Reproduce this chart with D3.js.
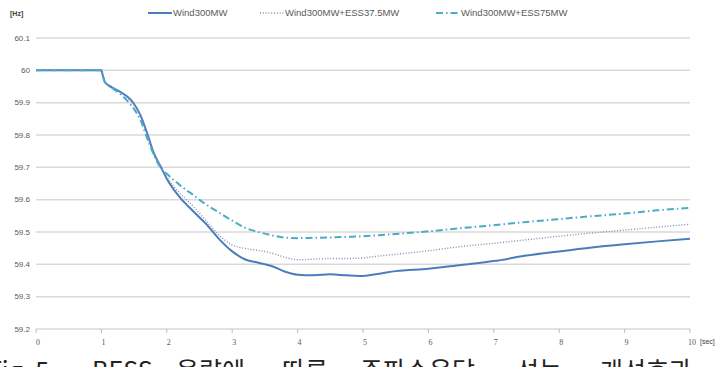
<!DOCTYPE html>
<html>
<head>
<meta charset="utf-8">
<script src="https://cdn.jsdelivr.net/npm/d3@7"></script>
<style>
  body { margin: 0; background: #fff; }
  svg { display: block; }
</style>
</head>
<body>
<div id="chart"></div>
<script>
// time axis (sec) shared by all series
let tiempo = [0, 1.0, 1.02, 1.05, 1.1, 1.2, 1.3, 1.4, 1.5, 1.6, 1.7, 1.8, 1.9, 2.0, 2.2, 2.4, 2.6, 2.8, 3.0,
    3.2, 3.4, 3.6, 3.8, 4.0, 4.25, 4.5, 4.75, 5.0, 5.25, 5.5, 6.0, 6.5, 7.0, 7.5, 8.0, 8.5, 9.0, 9.5, 10];

let wind300 = [60, 60, 59.985, 59.965, 59.955, 59.943, 59.932, 59.918, 59.896, 59.86, 59.805, 59.745, 59.705,
    59.665, 59.607, 59.565, 59.525, 59.478, 59.44, 59.415, 59.405, 59.395, 59.378, 59.368, 59.366, 59.369,
    59.366, 59.364, 59.371, 59.379, 59.386, 59.398, 59.41, 59.427, 59.44, 59.452, 59.462, 59.471, 59.479];

let wind300ess375 = [60, 60, 59.985, 59.965, 59.955, 59.943, 59.931, 59.915, 59.893, 59.857, 59.802, 59.743, 59.705,
    59.67, 59.62, 59.58, 59.535, 59.49, 59.46, 59.449, 59.443, 59.435, 59.422, 59.414, 59.416, 59.418,
    59.418, 59.42, 59.426, 59.431, 59.442, 59.455, 59.465, 59.476, 59.487, 59.497, 59.506, 59.515, 59.524];

let wind300ess75 = [60, 60, 59.985, 59.965, 59.954, 59.94, 59.925, 59.905, 59.88, 59.845, 59.79, 59.74, 59.70,
    59.68, 59.645, 59.615, 59.585, 59.56, 59.535, 59.513, 59.5, 59.49, 59.483, 59.481, 59.482, 59.483,
    59.485, 59.487, 59.49, 59.494, 59.502, 59.512, 59.521, 59.531, 59.54, 59.549, 59.557, 59.567, 59.575];

let nombres = ["Wind300MW", "Wind300MW+ESS37.5MW", "Wind300MW+ESS75MW"];
let yticks = [59.2, 59.3, 59.4, 59.5, 59.6, 59.7, 59.8, 59.9, 60, 60.1];
let xticks = [0, 1, 2, 3, 4, 5, 6, 7, 8, 9, 10];

let series = [
    {nombre: nombres[0], valores: wind300, color: "#4a7ebb", ancho: 2, dash: null},
    {nombre: nombres[1], valores: wind300ess375, color: "#8f84b8", ancho: 1.4, dash: "1,1.8"},
    {nombre: nombres[2], valores: wind300ess75, color: "#4bacc6", ancho: 2, dash: "7,3,1.5,3"}
];

let margin = {top: 38, right: 26, bottom: 38, left: 36},
    width = 716 - margin.left - margin.right,
    height = 367 - margin.top - margin.bottom;

let svg = d3.select("#chart")
    .append("svg")
    .attr("width", 716)
    .attr("height", 367);

let g = svg.append("g")
    .attr("transform", "translate(" + margin.left + "," + margin.top + ")");

let x = d3.scaleLinear().domain([0, 10]).range([0, width]);
let y = d3.scaleLinear().domain([59.2, 60.1]).range([height, 0]);

// gridlines
g.append("g")
    .selectAll("line")
    .data(yticks)
    .enter()
    .append("line")
    .attr("x1", 0)
    .attr("x2", width)
    .attr("y1", d => y(d))
    .attr("y2", d => y(d))
    .style("stroke", "#d9d9d9")
    .style("stroke-width", 1.5);

// y labels
g.append("g")
    .selectAll("text")
    .data(yticks)
    .enter()
    .append("text")
    .attr("x", -6)
    .attr("y", d => y(d))
    .attr("dy", "0.35em")
    .attr("text-anchor", "end")
    .style("font-family", "Liberation Sans, Arial, sans-serif")
    .style("font-size", "8px")
    .style("fill", "#595959")
    .text(d => d3.format("")(d));

// x ticks + labels
let xax = g.append("g").attr("transform", "translate(0," + height + ")");
xax.selectAll("line")
    .data(xticks)
    .enter()
    .append("line")
    .attr("x1", d => x(d))
    .attr("x2", d => x(d))
    .attr("y1", 0)
    .attr("y2", 4)
    .style("stroke", "#bfbfbf")
    .style("stroke-width", 1);
xax.selectAll("text")
    .data(xticks)
    .enter()
    .append("text")
    .attr("x", d => x(d) + 2)
    .attr("y", 16)
    .attr("text-anchor", "middle")
    .style("font-family", "Liberation Serif, serif")
    .style("font-size", "8px")
    .style("fill", "#595959")
    .text(d => d);

g.append("text")
    .attr("x", width + 10)
    .attr("y", height + 15)
    .style("font-family", "Liberation Sans, Arial, sans-serif")
    .style("font-size", "7px")
    .style("fill", "#404040")
    .text("[sec]");

g.append("text")
    .attr("x", -26)
    .attr("y", -22)
    .style("font-family", "Liberation Sans, Arial, sans-serif")
    .style("font-size", "7px")
    .style("font-weight", "bold")
    .style("fill", "#404040")
    .text("[Hz]");

// lines
let linea = d3.line()
    .x((d, i) => x(tiempo[i]))
    .y(d => y(d))
    .curve(d3.curveMonotoneX);

g.append("g")
    .selectAll("path")
    .data(series)
    .enter()
    .append("path")
    .attr("d", d => linea(d.valores))
    .style("fill", "none")
    .style("stroke", d => d.color)
    .style("stroke-width", d => d.ancho)
    .style("stroke-dasharray", d => d.dash);

// legend
let leyendaX = [148, 260, 436];
let ley = svg.append("g")
    .selectAll("g")
    .data(series)
    .enter()
    .append("g")
    .attr("transform", (d, i) => "translate(" + leyendaX[i] + ",13)");
ley.append("line")
    .attr("x1", 0)
    .attr("x2", 24)
    .style("stroke", d => d.color)
    .style("stroke-width", d => d.ancho)
    .style("stroke-dasharray", d => d.dash);
ley.append("text")
    .attr("x", 25)
    .attr("dy", "0.35em")
    .style("font-family", "Liberation Sans, Arial, sans-serif")
    .style("font-size", "9.5px")
    .style("fill", "#595959")
    .text(d => d.nombre);

// caption (cut off at bottom, as in the source page)
let caption = [
    {t: "Fig. 5", x: -12},
    {t: "BESS", x: 92},
    {t: "용량에", x: 176},
    {t: "따른", x: 282},
    {t: "주파수응답", x: 360},
    {t: "성능", x: 516},
    {t: "개선효과", x: 600}
];
svg.append("g")
    .selectAll("text")
    .data(caption)
    .enter()
    .append("text")
    .attr("x", d => d.x)
    .attr("y", 380)
    .style("font-family", "Noto Sans CJK KR, sans-serif")
    .style("font-size", "25px")
    .style("fill", "#222")
    .text(d => d.t);
</script>
</body>
</html>
